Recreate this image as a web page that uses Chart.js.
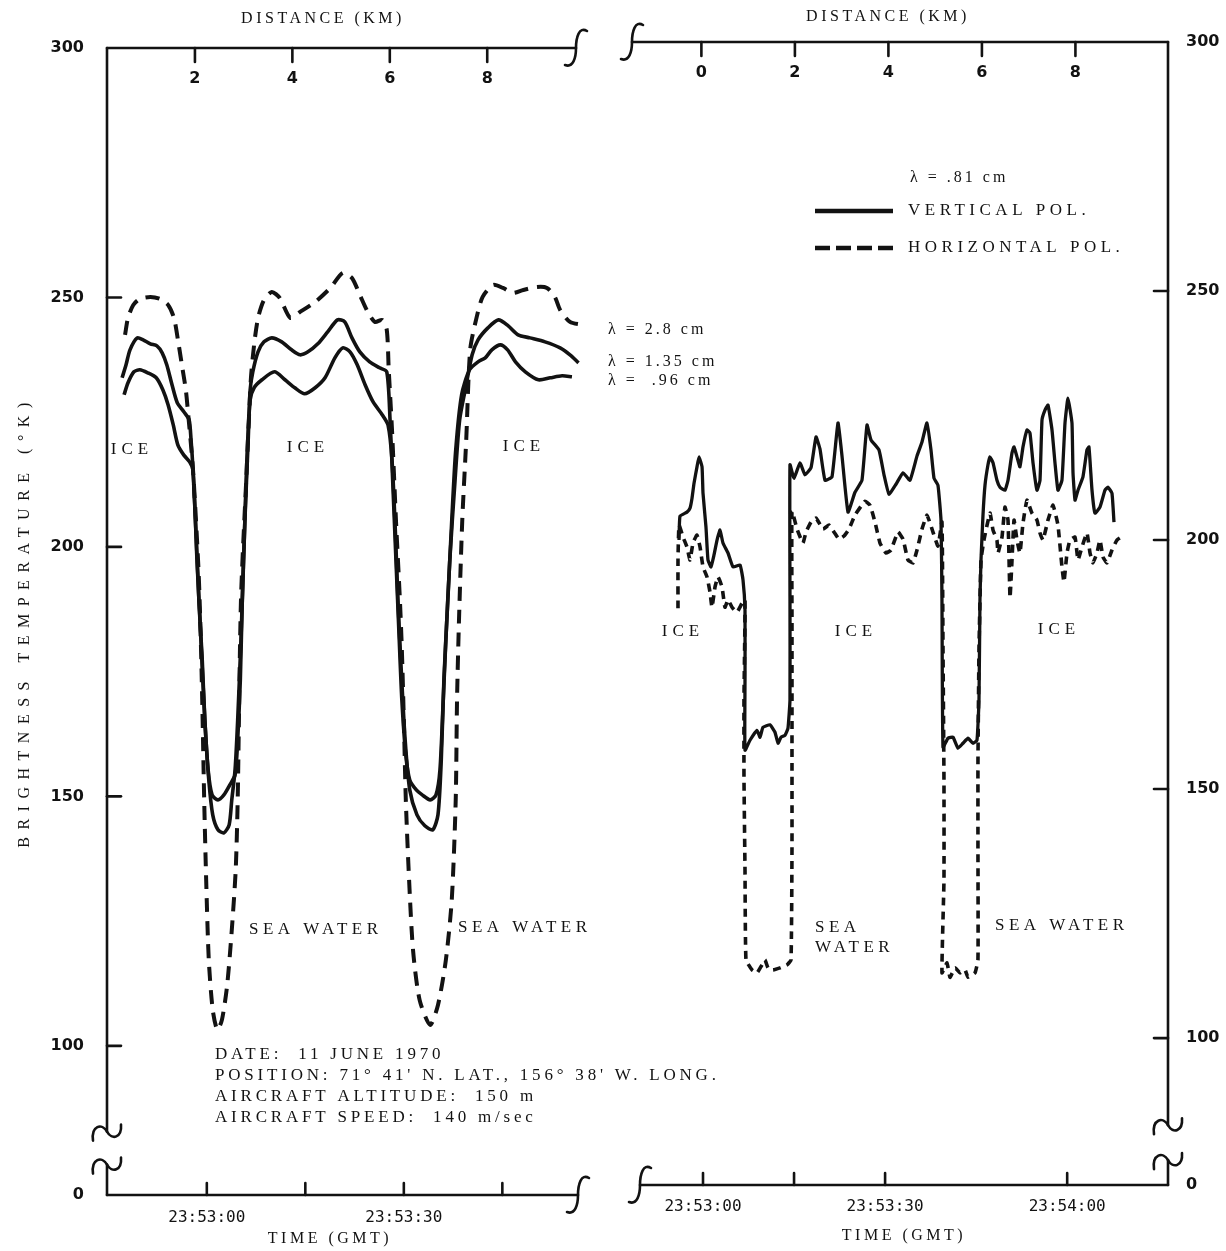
<!DOCTYPE html>
<html>
<head>
<meta charset="utf-8">
<title>Brightness temperature over sea ice</title>
<script src="https://cdn.jsdelivr.net/npm/chart.js@4.4.1/dist/chart.umd.min.js"></script>
<style>
    html, body { margin: 0; padding: 0; background: #fff; }
    #wrap { position: relative; width: 1226px; height: 1251px; overflow: hidden; background: #fff; }
    #wrap canvas { position: absolute; left: 0; top: 0; }
</style>
</head>
<body>
<div id="wrap">
    <canvas id="leftChart" width="1226" height="1251"></canvas>
    <canvas id="rightChart" width="1226" height="1251"></canvas>
</div>
<script>
"use strict";

// ---- data: time in seconds after 23:53:00 GMT, brightness temperature in K ----

// left panel, lambda = 2.8 cm (dashed)
const leftTime28 = [-12.45, -12.0, -11.2, -10.2, -8.6, -7.1, -5.9, -5.0, -4.4, -3.8, -3.2, -2.9, -2.1, -1.3, -1.0, -0.7, -0.4, -0.1, 0.3, 0.9, 1.6, 2.3, 3.1, 3.8, 4.4, 4.7, 5.2, 6.0, 6.7, 7.2, 7.8, 8.7, 9.9, 11.1, 12.7, 14.2, 16.5, 18.8, 20.7, 22.1, 23.3, 24.5, 25.6, 26.7, 27.4, 27.7, 28.2, 28.8, 29.4, 29.7, 30.0, 30.3, 30.8, 31.4, 32.4, 34.0, 35.2, 36.4, 37.3, 37.9, 38.1, 38.4, 38.9, 39.5, 40.1, 41.1, 42.0, 43.6, 45.1, 46.6, 48.2, 50.3, 51.8, 53.0, 53.8, 55.3, 57.3];
const leftTemp28 = [242.5, 245.9, 248.5, 249.7, 250.1, 249.7, 248.5, 245.9, 241.5, 236.5, 231.5, 227.5, 215.4, 196.4, 185.4, 169.3, 149.3, 133.3, 117.2, 107.2, 103.2, 105.2, 112.2, 123.2, 135.3, 149.3, 189.4, 213.4, 233.5, 240.5, 245.9, 249.5, 251.1, 249.9, 245.9, 247.1, 249.1, 251.9, 254.9, 253.9, 250.5, 247.1, 245.1, 245.5, 243.5, 235.5, 223.4, 205.4, 189.4, 179.4, 165.3, 149.3, 133.3, 119.2, 109.2, 104.2, 108.2, 117.2, 129.3, 149.3, 169.3, 185.4, 205.4, 221.4, 239.5, 246.1, 250.1, 252.5, 251.9, 250.9, 251.5, 252.1, 251.9, 250.1, 247.5, 245.1, 244.5];

// left panel, lambda = 1.35 cm
const leftTime135 = [-12.9, -12.3, -11.7, -10.6, -9.7, -8.6, -7.6, -6.8, -6.1, -5.3, -4.5, -3.5, -2.7, -2.4, -2.1, -1.6, -1.2, -0.7, -0.3, 0.2, 0.8, 1.7, 2.6, 3.5, 4.3, 4.7, 5.1, 5.4, 5.8, 6.3, 6.6, 7.0, 7.8, 8.7, 9.9, 11.4, 12.9, 14.2, 15.4, 16.9, 18.4, 19.9, 21.0, 22.1, 23.3, 24.8, 26.3, 27.4, 27.9, 28.3, 28.8, 29.3, 29.7, 30.3, 30.9, 31.9, 32.8, 34.0, 34.9, 35.5, 36.0, 36.4, 37.0, 37.8, 38.5, 39.5, 40.4, 41.3, 42.8, 44.4, 45.9, 47.4, 49.2, 51.5, 53.8, 55.3, 56.6];
const leftTemp135 = [233.9, 236.5, 239.5, 241.9, 241.5, 240.7, 240.3, 238.9, 236.5, 232.5, 228.9, 227.1, 225.5, 221.4, 215.4, 201.4, 189.4, 177.4, 165.3, 155.3, 150.3, 149.3, 150.3, 152.3, 154.3, 161.3, 173.3, 189.4, 205.4, 221.4, 231.5, 235.1, 239.1, 241.1, 241.9, 241.1, 239.5, 238.5, 239.1, 240.7, 243.1, 245.5, 245.1, 241.9, 239.1, 237.1, 235.9, 235.1, 225.5, 213.4, 197.4, 181.4, 169.3, 158.3, 153.3, 151.3, 150.3, 149.3, 150.3, 155.3, 169.3, 181.4, 197.4, 213.4, 225.5, 232.5, 238.5, 241.5, 243.9, 245.5, 244.3, 242.5, 241.9, 241.1, 239.9, 238.5, 236.9];

// left panel, lambda = .96 cm
const leftTime96 = [-12.6, -12.0, -11.1, -10.2, -9.0, -7.7, -6.7, -5.9, -5.1, -4.4, -3.5, -2.6, -2.1, -1.5, -0.9, -0.3, 0.3, 0.9, 1.7, 2.6, 3.4, 3.8, 4.3, 4.7, 5.2, 5.7, 6.1, 6.6, 7.2, 8.4, 10.3, 11.9, 13.4, 14.9, 16.5, 18.0, 19.5, 20.7, 21.8, 22.9, 24.1, 25.3, 26.7, 27.6, 28.2, 28.7, 29.1, 29.6, 30.2, 30.9, 32.0, 33.2, 34.4, 35.2, 35.7, 36.1, 36.7, 37.3, 37.9, 38.8, 40.0, 41.3, 42.4, 43.4, 44.7, 45.8, 47.0, 48.5, 50.5, 52.3, 54.1, 55.6];
const leftTemp96 = [230.5, 232.9, 235.1, 235.5, 234.9, 233.9, 231.5, 228.5, 224.4, 220.4, 218.4, 217.0, 215.4, 197.4, 181.4, 165.3, 153.3, 146.3, 143.3, 142.7, 144.3, 149.3, 155.3, 165.3, 181.4, 201.4, 217.4, 229.5, 231.9, 233.5, 235.1, 233.5, 231.9, 230.7, 231.9, 233.9, 237.9, 239.9, 239.1, 236.5, 232.5, 229.1, 226.5, 224.4, 217.4, 203.4, 189.4, 175.4, 161.3, 151.3, 146.3, 144.1, 143.3, 146.3, 157.3, 173.3, 189.4, 205.4, 219.4, 230.5, 235.5, 237.1, 237.9, 239.5, 240.5, 239.5, 237.1, 235.1, 233.5, 233.9, 234.3, 234.1];

// right panel, lambda = .81 cm, vertical polarisation
const rightTimeV = [-3.95, -3.79, -2.64, -2.14, -1.81, -1.48, -0.99, -0.66, -0.16, 0.0, 0.49, 0.82, 1.32, 1.81, 2.31, 2.80, 3.29, 4.12, 4.94, 6.10, 6.59, 6.92, 6.92, 6.92, 7.74, 8.90, 9.39, 9.88, 11.04, 11.86, 12.36, 12.85, 13.51, 14.00, 14.33, 14.33, 14.33, 14.99, 15.98, 16.80, 17.79, 18.62, 19.27, 20.10, 21.25, 22.24, 22.90, 23.89, 25.04, 26.19, 27.02, 27.68, 28.99, 29.82, 30.64, 31.80, 32.95, 34.10, 35.26, 36.08, 36.90, 37.56, 38.06, 38.71, 39.21, 39.37, 39.54, 40.36, 41.19, 42.01, 42.83, 43.66, 44.48, 45.14, 45.47, 45.63, 45.80, 46.13, 46.46, 46.95, 47.28, 47.78, 48.43, 48.93, 49.75, 50.25, 50.91, 51.24, 51.73, 52.22, 52.72, 53.38, 53.87, 54.37, 55.02, 55.52, 55.85, 56.34, 56.84, 57.50, 57.99, 58.48, 59.14, 59.64, 60.13, 60.79, 60.96, 61.29, 61.78, 62.60, 63.26, 63.59, 64.09, 64.58, 65.40, 66.23, 66.72, 67.38, 67.71];
const rightTempV = [200.0, 204.8, 205.6, 206.4, 208.4, 211.4, 214.7, 216.7, 214.7, 209.4, 202.6, 196.0, 194.6, 197.0, 200.0, 202.0, 199.4, 197.4, 194.6, 195.0, 192.0, 185.9, 171.9, 157.8, 159.8, 161.8, 160.4, 162.4, 162.9, 161.4, 159.2, 160.4, 160.8, 162.2, 167.9, 188.0, 215.1, 212.4, 215.5, 213.1, 214.5, 220.7, 218.3, 212.0, 212.7, 223.5, 216.9, 205.6, 209.6, 212.0, 223.1, 220.1, 218.1, 213.1, 209.2, 211.2, 213.5, 212.0, 216.9, 219.7, 223.5, 218.1, 212.4, 211.0, 204.0, 188.0, 158.4, 160.2, 160.4, 158.2, 159.2, 160.2, 159.2, 159.8, 167.9, 188.0, 196.0, 205.0, 211.0, 215.1, 216.7, 215.5, 212.0, 210.6, 210.0, 212.0, 217.5, 218.7, 216.7, 214.7, 218.7, 222.1, 221.5, 215.5, 210.0, 212.0, 224.1, 226.1, 227.1, 222.1, 215.5, 210.0, 212.0, 223.5, 228.5, 223.5, 213.5, 208.0, 210.0, 212.7, 218.1, 218.7, 210.0, 205.4, 206.6, 210.0, 210.6, 209.4, 203.6];

// right panel, lambda = .81 cm, horizontal polarisation
const rightTimeH = [-4.12, -4.12, -3.95, -3.29, -2.64, -2.14, -1.65, -0.99, -0.49, 0.0, 0.66, 1.15, 1.48, 1.98, 2.47, 3.13, 3.62, 4.12, 4.78, 5.60, 6.43, 6.92, 6.75, 6.75, 6.92, 7.08, 8.07, 8.90, 9.72, 10.21, 10.71, 11.53, 12.69, 13.84, 14.50, 14.66, 14.66, 14.66, 14.66, 15.49, 16.47, 16.97, 17.79, 18.62, 19.77, 20.76, 21.58, 22.40, 23.23, 24.05, 25.04, 26.69, 27.51, 28.34, 29.16, 30.15, 30.97, 32.12, 32.95, 33.77, 34.60, 35.26, 36.08, 36.90, 37.73, 38.71, 39.37, 39.54, 39.70, 39.70, 39.37, 40.20, 40.69, 41.52, 42.34, 43.16, 43.66, 44.81, 45.30, 45.30, 45.30, 45.47, 45.80, 46.29, 47.28, 47.78, 48.43, 48.60, 49.26, 49.75, 50.25, 50.58, 50.91, 51.24, 51.73, 52.22, 52.72, 53.38, 54.20, 55.02, 55.52, 56.01, 56.84, 57.66, 58.48, 59.14, 59.47, 59.97, 60.46, 61.29, 61.78, 62.44, 63.26, 63.76, 64.25, 64.91, 65.40, 65.90, 66.56, 67.38, 68.20, 69.19];
const rightTempH = [186.3, 196.0, 203.0, 200.6, 198.6, 196.0, 199.4, 201.0, 198.6, 194.6, 192.6, 189.6, 186.5, 190.6, 192.6, 190.6, 186.5, 188.0, 186.5, 185.5, 187.3, 188.0, 167.9, 152.4, 133.7, 115.7, 113.7, 113.1, 114.7, 115.7, 114.1, 113.7, 114.1, 114.7, 115.7, 137.8, 158.8, 183.9, 205.8, 202.2, 199.4, 201.6, 203.6, 204.4, 202.2, 203.0, 201.6, 200.2, 200.8, 202.2, 205.0, 207.8, 207.0, 203.6, 199.4, 197.4, 198.0, 201.6, 200.2, 196.0, 195.4, 198.0, 202.2, 205.0, 202.2, 198.8, 203.6, 177.9, 151.8, 131.7, 113.1, 115.1, 112.2, 114.1, 113.1, 113.7, 112.2, 113.1, 115.7, 137.8, 155.2, 177.9, 196.0, 200.0, 205.4, 202.0, 200.0, 197.4, 200.6, 206.6, 204.0, 188.4, 196.0, 204.0, 200.0, 197.4, 203.4, 208.0, 205.4, 204.0, 201.4, 200.0, 204.0, 207.0, 203.0, 194.6, 191.6, 197.4, 200.0, 200.6, 196.0, 198.6, 201.4, 197.4, 195.4, 197.4, 200.0, 196.6, 195.4, 198.0, 200.0, 200.8];

// ---- axis ticks ----
const tempTicks = [100, 150, 200, 250, 300];     // the axis is broken below 100, bottom edge is 0
const leftTimeTicks = [0, 15, 30, 45];
const rightTimeTicks = [0, 15, 30, 60];
const leftDistanceTicks = [2, 4, 6, 8];
const rightDistanceTicks = [0, 2, 4, 6, 8];
const startClock = '23:53:00';

// ---- styles ----
var ink = '#121212';
var serif = "'Liberation Serif', 'DejaVu Serif', serif";
var sans = "'DejaVu Sans', 'Liberation Sans', sans-serif";
var mono = "'DejaVu Sans Mono', 'Liberation Mono', monospace";

const toPoints = (xs, ys) => xs.map((v, i) => ({ x: v, y: ys[i] }));

const pad2 = n => (n < 10 ? '0' : '') + n;
const clockLabel = function (value) {
    if (value % 30 !== 0) {
        return '';
    }
    const parts = startClock.split(':').map(Number);
    const s = parts[0] * 3600 + parts[1] * 60 + parts[2] + value;
    return pad2(Math.floor(s / 3600)) + ':' + pad2(Math.floor(s % 3600 / 60)) + ':' + pad2(s % 60);
};
const tempLabel = function (value) {
    return value < 100 ? '0' : String(value);
};

const line = (ctx, x1, y1, x2, y2) => {
    ctx.beginPath();
    ctx.moveTo(x1, y1);
    ctx.lineTo(x2, y2);
    ctx.stroke();
};

// integral-like break mark on the horizontal axes
const drawCurl = (ctx, x, y) => {
    ctx.beginPath();
    ctx.moveTo(x + 11, y - 17);
    ctx.bezierCurveTo(x + 3, y - 22, x, y - 10, x, y);
    ctx.bezierCurveTo(x, y + 10, x - 3, y + 20, x - 11, y + 17);
    ctx.stroke();
};

// tilde break mark on the vertical axes
const drawTilde = (ctx, x, y) => {
    ctx.beginPath();
    ctx.moveTo(x - 14, y + 9);
    ctx.bezierCurveTo(x - 16, y - 6, x - 5, y - 9, x, y);
    ctx.bezierCurveTo(x + 5, y + 9, x + 15, y + 6, x + 14, y - 7);
    ctx.stroke();
};

const text = (ctx, str, x, y, size, spacing, align) => {
    ctx.font = size + 'px ' + serif;
    ctx.letterSpacing = (spacing || 0) + 'px';
    ctx.textAlign = align || 'left';
    ctx.textBaseline = 'middle';
    ctx.fillText(str, x, y);
};

const drawNotes = (ctx, notes) => {
    ctx.fillStyle = ink;
    notes.forEach(n => text(ctx, n.text, n.x, n.y, n.size, n.spacing, n.align));
};

// distance labels sit just under the top axis line, inside the frame
const drawDistanceLabels = (ctx, scale, y) => {
    ctx.fillStyle = ink;
    ctx.font = 'bold 16px ' + sans;
    ctx.letterSpacing = '0px';
    ctx.textAlign = 'center';
    ctx.textBaseline = 'middle';
    scale.ticks.forEach(t => ctx.fillText(String(t.value), scale.getPixelForValue(t.value), y));
};

// ---- left panel ----
var leftFrame = {
    id: 'leftFrame',
    afterDraw(chart, args, opts) {
        const { ctx, chartArea: a } = chart;
        const { x, xTop, y } = chart.scales;
        const b1 = y.getPixelForValue(opts.breaks[0]);
        const b2 = y.getPixelForValue(opts.breaks[1]);

        ctx.save();
        ctx.strokeStyle = ink;
        ctx.lineWidth = 2.6;
        ctx.lineCap = 'round';

        line(ctx, a.left, a.top, a.left, b1);
        line(ctx, a.left, b2, a.left, a.bottom);
        drawTilde(ctx, a.left, b1);
        drawTilde(ctx, a.left, b2);

        line(ctx, a.left, a.top, a.right - 15, a.top);
        drawCurl(ctx, a.right - 15, a.top);
        line(ctx, a.left, a.bottom, a.right - 13, a.bottom);
        drawCurl(ctx, a.right - 13, a.bottom);

        y.ticks.forEach(t => {
            if (t.value > y.min && t.value < y.max) {
                const p = y.getPixelForValue(t.value);
                line(ctx, a.left, p, a.left + 14, p);
            }
        });
        xTop.ticks.forEach(t => {
            const p = xTop.getPixelForValue(t.value);
            line(ctx, p, a.top, p, a.top + 14);
        });
        x.ticks.forEach(t => {
            const p = x.getPixelForValue(t.value);
            line(ctx, p, a.bottom, p, a.bottom - 12);
        });

        drawDistanceLabels(ctx, xTop, a.top + 31);
        drawNotes(ctx, opts.notes);

        // vertical axis title
        ctx.save();
        ctx.translate(25, (a.top + a.bottom) / 2);
        ctx.rotate(-Math.PI / 2);
        text(ctx, 'BRIGHTNESS TEMPERATURE (°K)', 0, 0, 16, 7.5, 'center');
        ctx.restore();

        ctx.restore();
    }
};

new Chart(document.getElementById('leftChart'), {
    type: 'line',
    data: {
        datasets: [
            {
                label: 'λ = 2.8 cm',
                data: toPoints(leftTime28, leftTemp28),
                borderDash: [14, 9],
                borderWidth: 4
            },
            {
                label: 'λ = 1.35 cm',
                data: toPoints(leftTime135, leftTemp135),
                borderWidth: 3.6
            },
            {
                label: 'λ = .96 cm',
                data: toPoints(leftTime96, leftTemp96),
                borderWidth: 3.6
            }
        ]
    },
    options: {
        responsive: false,
        animation: false,
        events: [],
        layout: { padding: { left: 0, top: 0, right: 635, bottom: 0 } },
        elements: {
            point: { radius: 0 },
            line: { borderColor: ink, tension: 0.25, borderJoinStyle: 'round', fill: false }
        },
        plugins: {
            legend: { display: false },
            tooltip: { enabled: false },
            leftFrame: {
                breaks: [82.8, 76.2],
                notes: [
                    { text: 'DISTANCE (KM)', x: 323, y: 19, size: 16, spacing: 3.5, align: 'center' },
                    { text: 'TIME (GMT)', x: 330, y: 1239, size: 16, spacing: 3.5, align: 'center' },
                    { text: 'ICE', x: 132, y: 450, size: 17, spacing: 5, align: 'center' },
                    { text: 'ICE', x: 308, y: 448, size: 17, spacing: 5, align: 'center' },
                    { text: 'ICE', x: 524, y: 447, size: 17, spacing: 5, align: 'center' },
                    { text: 'SEA WATER', x: 249, y: 930, size: 17, spacing: 4.5, align: 'left' },
                    { text: 'SEA WATER', x: 458, y: 928, size: 17, spacing: 4.5, align: 'left' },
                    { text: 'λ = 2.8 cm', x: 608, y: 330, size: 16, spacing: 3, align: 'left' },
                    { text: 'λ = 1.35 cm', x: 608, y: 362, size: 16, spacing: 3, align: 'left' },
                    { text: 'λ =  .96 cm', x: 608, y: 381, size: 16, spacing: 3, align: 'left' },
                    { text: 'DATE:  11 JUNE 1970', x: 215, y: 1055, size: 17, spacing: 3.8, align: 'left' },
                    { text: "POSITION: 71° 41' N. LAT., 156° 38' W. LONG.", x: 215, y: 1076, size: 17, spacing: 3.8, align: 'left' },
                    { text: 'AIRCRAFT ALTITUDE:  150 m', x: 215, y: 1097, size: 17, spacing: 3.8, align: 'left' },
                    { text: 'AIRCRAFT SPEED:  140 m/sec', x: 215, y: 1118, size: 17, spacing: 3.8, align: 'left' }
                ]
            }
        },
        scales: {
            x: {
                type: 'linear',
                position: 'bottom',
                min: -15.2,
                max: 58.5,
                afterBuildTicks: s => { s.ticks = leftTimeTicks.map(v => ({ value: v })); },
                afterFit: s => { s.height = 56; },
                grid: { display: false, drawTicks: false },
                border: { display: false },
                ticks: { callback: clockLabel, autoSkip: false, maxRotation: 0, padding: 13, color: ink, font: { family: mono, size: 16 } }
            },
            xTop: {
                type: 'linear',
                position: 'top',
                min: 0.195,
                max: 10.13,
                afterBuildTicks: s => { s.ticks = leftDistanceTicks.map(v => ({ value: v })); },
                afterFit: s => { s.height = 48; },
                grid: { display: false, drawTicks: false },
                border: { display: false },
                ticks: { display: false }
            },
            y: {
                type: 'linear',
                position: 'left',
                min: 70.1,
                max: 300,
                afterBuildTicks: s => { s.ticks = [{ value: s.min }].concat(tempTicks.map(v => ({ value: v }))); },
                afterFit: s => { s.width = 107; },
                grid: { display: false, drawTicks: false },
                border: { display: false },
                ticks: { callback: tempLabel, autoSkip: false, padding: 23, color: ink, font: { family: sans, size: 16, weight: 'bold' } }
            }
        }
    },
    plugins: [leftFrame]
});

// ---- right panel ----
var rightFrame = {
    id: 'rightFrame',
    afterDraw(chart, args, opts) {
        const { ctx, chartArea: a } = chart;
        const { x, xTop, y } = chart.scales;
        const b1 = y.getPixelForValue(opts.breaks[0]);
        const b2 = y.getPixelForValue(opts.breaks[1]);

        ctx.save();
        ctx.strokeStyle = ink;
        ctx.lineWidth = 2.6;
        ctx.lineCap = 'round';

        line(ctx, a.right, a.top, a.right, b1);
        line(ctx, a.right, b2, a.right, a.bottom);
        drawTilde(ctx, a.right, b1);
        drawTilde(ctx, a.right, b2);

        line(ctx, a.left - 8, a.top, a.right, a.top);
        drawCurl(ctx, a.left - 8, a.top);
        line(ctx, a.left, a.bottom, a.right, a.bottom);
        drawCurl(ctx, a.left, a.bottom);

        y.ticks.forEach(t => {
            if (t.value > y.min && t.value < y.max) {
                const p = y.getPixelForValue(t.value);
                line(ctx, a.right, p, a.right - 14, p);
            }
        });
        xTop.ticks.forEach(t => {
            const p = xTop.getPixelForValue(t.value);
            line(ctx, p, a.top, p, a.top + 14);
        });
        x.ticks.forEach(t => {
            const p = x.getPixelForValue(t.value);
            line(ctx, p, a.bottom, p, a.bottom - 12);
        });

        drawDistanceLabels(ctx, xTop, a.top + 31);

        // legend samples for the two polarisations
        const lg = opts.legend;
        chart.data.datasets.forEach((ds, i) => {
            const ly = lg.y + i * lg.gap;
            ctx.save();
            ctx.lineWidth = 4.5;
            ctx.lineCap = 'butt';
            ctx.setLineDash(ds.borderDash ? lg.dash : []);
            line(ctx, lg.x, ly, lg.x + lg.len, ly);
            ctx.restore();
            ctx.fillStyle = ink;
            text(ctx, ds.label, lg.x + lg.len + 15, ly, 17, 4.5, 'left');
        });

        drawNotes(ctx, opts.notes);
        ctx.restore();
    }
};

new Chart(document.getElementById('rightChart'), {
    type: 'line',
    data: {
        datasets: [
            {
                label: 'VERTICAL POL.',
                data: toPoints(rightTimeV, rightTempV),
                borderWidth: 3.3
            },
            {
                label: 'HORIZONTAL POL.',
                data: toPoints(rightTimeH, rightTempH),
                borderDash: [8, 6],
                borderWidth: 3.6
            }
        ]
    },
    options: {
        responsive: false,
        animation: false,
        events: [],
        layout: { padding: { left: 640, top: 0, right: 0, bottom: 0 } },
        elements: {
            point: { radius: 0 },
            line: { borderColor: ink, tension: 0.12, borderJoinStyle: 'round', fill: false }
        },
        plugins: {
            legend: { display: false },
            tooltip: { enabled: false },
            rightFrame: {
                breaks: [82.5, 75.5],
                legend: { x: 815, y: 211, gap: 37, len: 78, dash: [15, 6] },
                notes: [
                    { text: 'DISTANCE (KM)', x: 888, y: 17, size: 16, spacing: 3.5, align: 'center' },
                    { text: 'TIME (GMT)', x: 904, y: 1236, size: 16, spacing: 3.5, align: 'center' },
                    { text: 'λ = .81 cm', x: 910, y: 178, size: 16, spacing: 3, align: 'left' },
                    { text: 'ICE', x: 683, y: 632, size: 17, spacing: 5, align: 'center' },
                    { text: 'ICE', x: 856, y: 632, size: 17, spacing: 5, align: 'center' },
                    { text: 'ICE', x: 1059, y: 630, size: 17, spacing: 5, align: 'center' },
                    { text: 'SEA', x: 815, y: 928, size: 17, spacing: 4.5, align: 'left' },
                    { text: 'WATER', x: 815, y: 948, size: 17, spacing: 4.5, align: 'left' },
                    { text: 'SEA WATER', x: 995, y: 926, size: 17, spacing: 4.5, align: 'left' }
                ]
            }
        },
        scales: {
            x: {
                type: 'linear',
                position: 'bottom',
                min: -10.38,
                max: 76.61,
                afterBuildTicks: s => { s.ticks = rightTimeTicks.map(v => ({ value: v })); },
                afterFit: s => { s.height = 66; },
                grid: { display: false, drawTicks: false },
                border: { display: false },
                ticks: { callback: clockLabel, autoSkip: false, maxRotation: 0, padding: 12, color: ink, font: { family: mono, size: 16 } }
            },
            xTop: {
                type: 'linear',
                position: 'top',
                min: -1.313,
                max: 9.98,
                afterBuildTicks: s => { s.ticks = rightDistanceTicks.map(v => ({ value: v })); },
                afterFit: s => { s.height = 42; },
                grid: { display: false, drawTicks: false },
                border: { display: false },
                ticks: { display: false }
            },
            y: {
                type: 'linear',
                position: 'right',
                min: 70.5,
                max: 300,
                afterBuildTicks: s => { s.ticks = [{ value: s.min }].concat(tempTicks.map(v => ({ value: v }))); },
                afterFit: s => { s.width = 58; },
                grid: { display: false, drawTicks: false },
                border: { display: false },
                ticks: { callback: tempLabel, autoSkip: false, padding: 18, color: ink, font: { family: sans, size: 16, weight: 'bold' } }
            }
        }
    },
    plugins: [rightFrame]
});
</script>
</body>
</html>
